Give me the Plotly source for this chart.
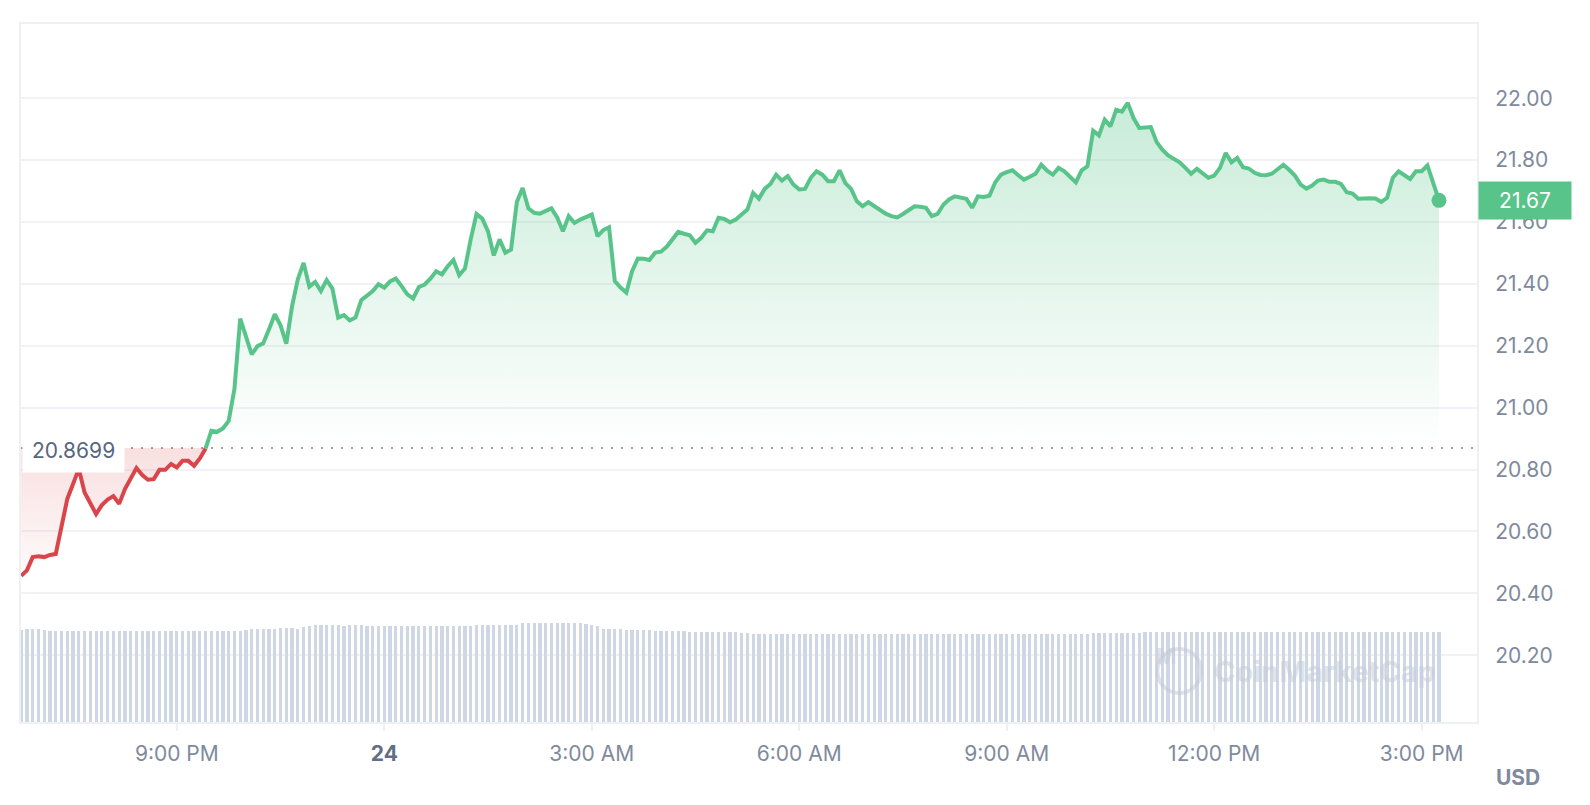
import plotly.graph_objects as go
import pandas as pd

START = "2024-05-23 18:45"
STEP = "5min"
BASE = 20.8699
LAST_LABEL = "21.67"

price = [
    20.457, 20.474, 20.517, 20.520, 20.517, 20.524, 20.527, 20.619, 20.705, 20.753, 20.802, 20.726,
    20.694, 20.656, 20.685, 20.703, 20.714, 20.689, 20.737, 20.768, 20.805, 20.782, 20.767, 20.769,
    20.799, 20.799, 20.818, 20.807, 20.828, 20.828, 20.812, 20.836, 20.868, 20.925, 20.922, 20.933,
    20.957, 21.060, 21.288, 21.230, 21.172, 21.199, 21.208, 21.253, 21.302, 21.266, 21.207, 21.328,
    21.415, 21.468, 21.391, 21.406, 21.377, 21.412, 21.385, 21.291, 21.299, 21.282, 21.291, 21.347,
    21.361, 21.377, 21.399, 21.388, 21.408, 21.417, 21.393, 21.366, 21.353, 21.390, 21.398, 21.417,
    21.441, 21.431, 21.457, 21.477, 21.428, 21.450, 21.544, 21.626, 21.611, 21.570, 21.492, 21.544,
    21.501, 21.511, 21.665, 21.710, 21.644, 21.630, 21.627, 21.637, 21.644, 21.615, 21.570, 21.619,
    21.597, 21.608, 21.615, 21.624, 21.554, 21.574, 21.583, 21.409, 21.388, 21.372, 21.441, 21.482,
    21.481, 21.477, 21.501, 21.504, 21.520, 21.544, 21.568, 21.562, 21.557, 21.533, 21.549, 21.573,
    21.570, 21.614, 21.610, 21.599, 21.608, 21.624, 21.640, 21.694, 21.675, 21.707, 21.723, 21.753,
    21.734, 21.748, 21.721, 21.705, 21.707, 21.743, 21.764, 21.753, 21.732, 21.732, 21.767, 21.726,
    21.707, 21.667, 21.651, 21.664, 21.651, 21.640, 21.627, 21.619, 21.615, 21.626, 21.638, 21.651,
    21.649, 21.646, 21.619, 21.626, 21.656, 21.673, 21.683, 21.678, 21.675, 21.646, 21.683, 21.681,
    21.685, 21.728, 21.753, 21.761, 21.767, 21.751, 21.737, 21.746, 21.756, 21.785, 21.766, 21.753,
    21.775, 21.764, 21.746, 21.728, 21.767, 21.780, 21.895, 21.880, 21.931, 21.909, 21.963, 21.957,
    21.985, 21.936, 21.904, 21.906, 21.907, 21.859, 21.834, 21.815, 21.804, 21.793, 21.775, 21.756,
    21.772, 21.759, 21.743, 21.750, 21.775, 21.823, 21.793, 21.807, 21.777, 21.773, 21.759, 21.752,
    21.751, 21.756, 21.769, 21.785, 21.769, 21.750, 21.721, 21.708, 21.718, 21.734, 21.737, 21.730,
    21.730, 21.723, 21.696, 21.692, 21.675, 21.677, 21.677, 21.676, 21.665, 21.678, 21.743, 21.764,
    21.750, 21.739, 21.764, 21.764, 21.783, 21.721, 21.670,
]

volume = [
    9.17, 9.27, 9.27, 9.27, 9.17, 9.07, 9.07, 9.07, 9.07, 9.13, 9.07, 9.07,
    9.07, 9.07, 9.07, 9.07, 9.07, 9.07, 9.07, 9.07, 9.07, 9.07, 9.07, 9.13,
    9.13, 9.07, 9.07, 9.13, 9.13, 9.13, 9.13, 9.13, 9.13, 9.13, 9.13, 9.13,
    9.07, 9.07, 9.13, 9.23, 9.33, 9.33, 9.33, 9.33, 9.33, 9.43, 9.43, 9.43,
    9.33, 9.50, 9.57, 9.73, 9.73, 9.73, 9.73, 9.73, 9.63, 9.73, 9.73, 9.73,
    9.60, 9.60, 9.60, 9.60, 9.60, 9.60, 9.60, 9.60, 9.60, 9.60, 9.60, 9.60,
    9.60, 9.60, 9.60, 9.60, 9.60, 9.65, 9.65, 9.70, 9.70, 9.70, 9.70, 9.70,
    9.70, 9.75, 9.75, 9.90, 9.95, 9.95, 9.95, 9.95, 9.95, 9.95, 9.90, 9.90,
    9.90, 9.90, 9.80, 9.75, 9.60, 9.35, 9.35, 9.35, 9.30, 9.20, 9.20, 9.20,
    9.20, 9.20, 9.15, 9.15, 9.15, 9.10, 9.10, 9.10, 9.05, 9.05, 9.05, 9.05,
    9.00, 9.00, 9.00, 9.00, 9.00, 8.90, 8.90, 8.85, 8.85, 8.85, 8.85, 8.85,
    8.85, 8.85, 8.85, 8.85, 8.85, 8.85, 8.85, 8.85, 8.85, 8.85, 8.85, 8.85,
    8.85, 8.85, 8.85, 8.85, 8.85, 8.85, 8.85, 8.85, 8.85, 8.85, 8.85, 8.85,
    8.85, 8.85, 8.85, 8.85, 8.85, 8.85, 8.85, 8.85, 8.85, 8.85, 8.85, 8.85,
    8.85, 8.85, 8.85, 8.85, 8.85, 8.85, 8.85, 8.85, 8.85, 8.85, 8.85, 8.85,
    8.85, 8.85, 8.85, 8.85, 8.85, 8.85, 8.90, 8.90, 8.95, 8.95, 8.95, 8.95,
    8.95, 8.95, 8.95, 8.98, 8.98, 8.98, 8.98, 8.98, 8.98, 8.98, 8.98, 8.98,
    8.98, 8.98, 8.98, 8.98, 8.98, 8.98, 8.98, 8.98, 8.98, 8.98, 8.98, 8.98,
    8.98, 8.98, 8.98, 8.98, 8.98, 8.98, 8.98, 8.98, 8.98, 8.98, 8.98, 8.98,
    8.98, 8.98, 8.98, 8.98, 8.98, 8.98, 8.98, 8.98, 8.98, 8.98, 8.98, 8.98,
    8.98, 8.98, 8.98, 8.98, 8.98, 8.98, 8.98,
]

tick_times = ["2024-05-23 21:00", "2024-05-24 00:00", "2024-05-24 03:00", "2024-05-24 06:00",
              "2024-05-24 09:00", "2024-05-24 12:00", "2024-05-24 15:00"]
tick_text = ["9:00 PM", "<b><span style='color:#616e85'>24</span></b>", "3:00 AM", "6:00 AM",
             "9:00 AM", "12:00 PM", "3:00 PM"]
y_ticks = [20.20, 20.40, 20.60, 20.80, 21.00, 21.20, 21.40, 21.60, 21.80, 22.00]

GREEN = "#58c48a"
RED = "#d9454a"
GRID = "#f1f2f5"
TEXT = "#808a9d"
FS = 21
LW = 4

times = pd.date_range(START, periods=len(price), freq=STEP)
cross = next(i for i, p in enumerate(price) if p >= BASE - 0.002)

fig = go.Figure()

# volume bars
fig.add_trace(go.Bar(x=times, y=volume, yaxis="y2", marker=dict(color="#cfd6e4", line=dict(width=0)),
                     width=5 * 60 * 1000 * 0.56, hoverinfo="skip", showlegend=False))

# red section
red_t = times[: cross + 1]
red_p = price[: cross + 1]
fig.add_trace(go.Scatter(x=red_t, y=[BASE] * len(red_t), mode="lines", line=dict(width=0),
                         hoverinfo="skip", showlegend=False))
fig.add_trace(go.Scatter(x=red_t, y=red_p, mode="lines", line=dict(color=RED, width=LW),
                         fill="tonexty",
                         fillgradient=dict(type="vertical",
                                           colorscale=[[0, "rgba(217,70,75,0.03)"], [1, "rgba(217,70,75,0.17)"]],
                                           start=min(red_p), stop=BASE),
                         showlegend=False))

# green section
g_t = times[cross:]
g_p = price[cross:]
fig.add_trace(go.Scatter(x=g_t, y=[BASE] * len(g_t), mode="lines", line=dict(width=0),
                         hoverinfo="skip", showlegend=False))
fig.add_trace(go.Scatter(x=g_t, y=g_p, mode="lines", line=dict(color=GREEN, width=LW),
                         fill="tonexty",
                         fillgradient=dict(type="vertical",
                                           colorscale=[[0, "rgba(90,196,138,0.0)"], [1, "rgba(90,196,138,0.33)"]],
                                           start=BASE, stop=max(g_p)),
                         showlegend=False))

# last point dot
fig.add_trace(go.Scatter(x=[times[-1]], y=[price[-1]], mode="markers",
                         marker=dict(color=GREEN, size=15), showlegend=False))

x_left = times[0] - pd.Timedelta(seconds=10)
x_right = times[0] + pd.Timedelta(minutes=1263)

fig.update_layout(
    width=1574, height=789,
    margin=dict(l=11, r=105, t=16, b=75),
    paper_bgcolor="white", plot_bgcolor="white",
    font=dict(family="Inter, sans-serif", size=FS, color=TEXT),
    bargap=0,
    xaxis=dict(type="date", range=[x_left, x_right], tickvals=tick_times, ticktext=tick_text,
               showgrid=False, zeroline=False, showline=True, mirror=True, linecolor="#eef0f3",
               linewidth=2, ticks="outside", ticklen=7, tickwidth=2, tickcolor="#eef0f3",
               tickfont=dict(size=FS, color=TEXT), ticklabelstandoff=5),
    yaxis=dict(range=[19.984, 22.24], side="right", tickvals=y_ticks,
               ticktext=[f"{v:.2f}" for v in y_ticks], showgrid=True, gridcolor=GRID, gridwidth=2,
               zeroline=False, showline=True, mirror=True, linecolor="#eef0f3", linewidth=2,
               ticks="", tickfont=dict(size=FS, color=TEXT), ticklabelstandoff=12),
    yaxis2=dict(range=[0, 69.8], overlaying="y", visible=False),
    hovermode=False,
)

# dotted baseline
fig.add_shape(type="line", xref="paper", x0=0, x1=1, yref="y", y0=BASE, y1=BASE,
              line=dict(color="#9aa1ae", width=2, dash="2px,8px"), layer="between")

# baseline label
fig.add_annotation(xref="paper", x=0, xanchor="left", yref="y", y=BASE, yanchor="middle",
                   text=f"{BASE:.4f}", showarrow=False, bgcolor="white", borderpad=9, xshift=1,
                   yshift=-3, font=dict(size=FS, color="#58667e"))

# current price label
fig.add_annotation(xref="paper", x=1, xanchor="left", yref="y", y=price[-1], yanchor="middle",
                   text=LAST_LABEL, showarrow=False, bgcolor=GREEN, borderpad=6, width=80, xshift=1,
                   font=dict(size=FS, color="white"))

# currency label
fig.add_annotation(xref="paper", x=1.0117, xanchor="left", yref="paper", y=-0.080, yanchor="middle",
                   text="<b>USD</b>", showarrow=False, font=dict(size=FS, color=TEXT))

# watermark
WM = "rgba(196,203,217,0.55)"
fig.add_shape(type="circle", xref="paper", yref="paper", x0=0.7805, x1=0.8105, y0=0.0415, y1=0.1046,
              line=dict(color=WM, width=4), layer="above")
fig.add_annotation(xref="paper", x=0.7955, yref="paper", y=0.073, text="<b>M</b>", showarrow=False,
                   font=dict(size=22, color=WM))
fig.add_annotation(xref="paper", x=0.818, xanchor="left", yref="paper", y=0.073, yanchor="middle",
                   text="<b>CoinMarketCap</b>", showarrow=False, font=dict(size=29, color=WM))

fig.write_html("out.html")
